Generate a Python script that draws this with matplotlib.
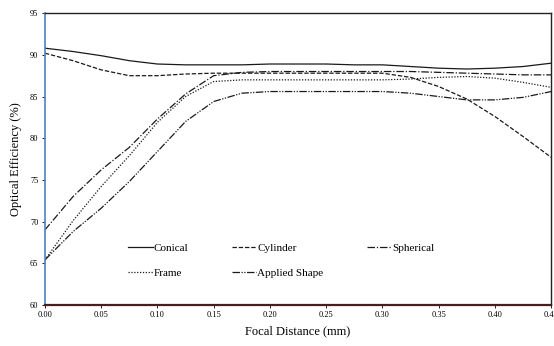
import matplotlib

matplotlib.use("Agg")
import matplotlib.pyplot as plt

# ── Data ───────────────────────────────────────────────────────────────────
X_POS = [0, 0.5, 1, 1.5, 2, 2.5, 3, 3.5, 4, 4.5, 5, 5.5, 6, 6.5, 7, 7.5, 8, 8.5, 9]
X_TICKS = [0, 1, 2, 3, 4, 5, 6, 7, 8, 9]
X_TICK_LABELS = ["0.00", "0.05", "0.10", "0.15", "0.20",
                 "0.25", "0.30", "0.35", "0.40", "0.45"]
Y_TICKS = [60, 65, 70, 75, 80, 85, 90, 95]

CONICAL = [90.8, 90.4, 89.9, 89.3, 88.9, 88.8, 88.8, 88.8, 88.9, 88.9,
           88.9, 88.8, 88.8, 88.6, 88.4, 88.3, 88.4, 88.6, 89.0]
CYLINDER = [90.2, 89.3, 88.2, 87.5, 87.5, 87.7, 87.8, 87.8, 87.8, 87.8,
            87.8, 87.8, 87.8, 87.3, 86.2, 84.7, 82.6, 80.2, 77.7]
SPHERICAL = [69.0, 73.0, 76.2, 78.9, 82.3, 85.3, 87.5, 87.9, 88.0, 88.0,
             88.0, 88.0, 88.0, 88.0, 87.9, 87.8, 87.7, 87.6, 87.6]
FRAME = [65.4, 70.1, 74.2, 77.9, 81.9, 85.0, 86.8, 87.0, 87.0, 87.0,
         87.0, 87.0, 87.0, 87.1, 87.3, 87.4, 87.2, 86.7, 86.1]
APPLIED = [65.4, 68.8, 71.6, 74.8, 78.4, 82.0, 84.4, 85.4, 85.6, 85.6,
           85.6, 85.6, 85.6, 85.4, 85.0, 84.6, 84.6, 84.9, 85.6]

SERIES = [
    ("Conical", CONICAL, "-"),
    ("Cylinder", CYLINDER, (0, (3.5, 1.5))),
    ("Spherical", SPHERICAL, (0, (6, 1.5, 1, 1.5))),
    ("Frame", FRAME, (0, (1, 1.3))),
    ("Applied Shape", APPLIED, (0, (6, 1.2, 1, 1.2, 1, 1.2))),
]
# legend fills column by column; this order gives rows
# Conical / Cylinder / Spherical and Frame / Applied Shape
LEGEND_ORDER = [0, 3, 1, 4, 2]

plt.rcParams["font.family"] = ["Liberation Serif", "DejaVu Serif"]


def main() -> None:
    fig = plt.figure(figsize=(5.54, 3.46), dpi=100)
    ax = fig.add_axes([0.081, 0.1185, 0.914, 0.8435])

    lines = []
    for label, values, style in SERIES:
        (ln,) = ax.plot(X_POS, values, color="#1a1a1a", linestyle=style,
                        linewidth=0.9, label=label)
        lines.append(ln)

    ax.set_xlim(0, 9)
    ax.set_ylim(60, 95)
    ax.set_xticks(X_TICKS)
    ax.set_xticklabels(X_TICK_LABELS)
    ax.set_yticks(Y_TICKS)
    ax.tick_params(labelsize=6, length=2.5, width=0.6, pad=2)

    ax.set_xlabel("Focal Distance (mm)", fontsize=9, labelpad=4)
    ax.set_ylabel("Optical Efficiency (%)", fontsize=9, labelpad=6)

    for side in ("top", "right"):
        ax.spines[side].set_linewidth(1.0)
        ax.spines[side].set_color("#222222")
    ax.spines["left"].set_color("#4f81bd")
    ax.spines["left"].set_linewidth(1.2)
    ax.spines["bottom"].set_color("#4a1c1c")
    ax.spines["bottom"].set_linewidth(1.6)

    handles = [lines[i] for i in LEGEND_ORDER]
    ax.legend(
        handles,
        [h.get_label() for h in handles],
        loc="upper left",
        bbox_to_anchor=(0.145, 0.245),
        ncol=3,
        frameon=False,
        fontsize=8,
        handlelength=2.2,
        handletextpad=0.1,
        columnspacing=3.9,
        labelspacing=1.35,
    )

    fig.savefig("out.png", dpi=100)
    plt.close(fig)


if __name__ == "__main__":
    main()
